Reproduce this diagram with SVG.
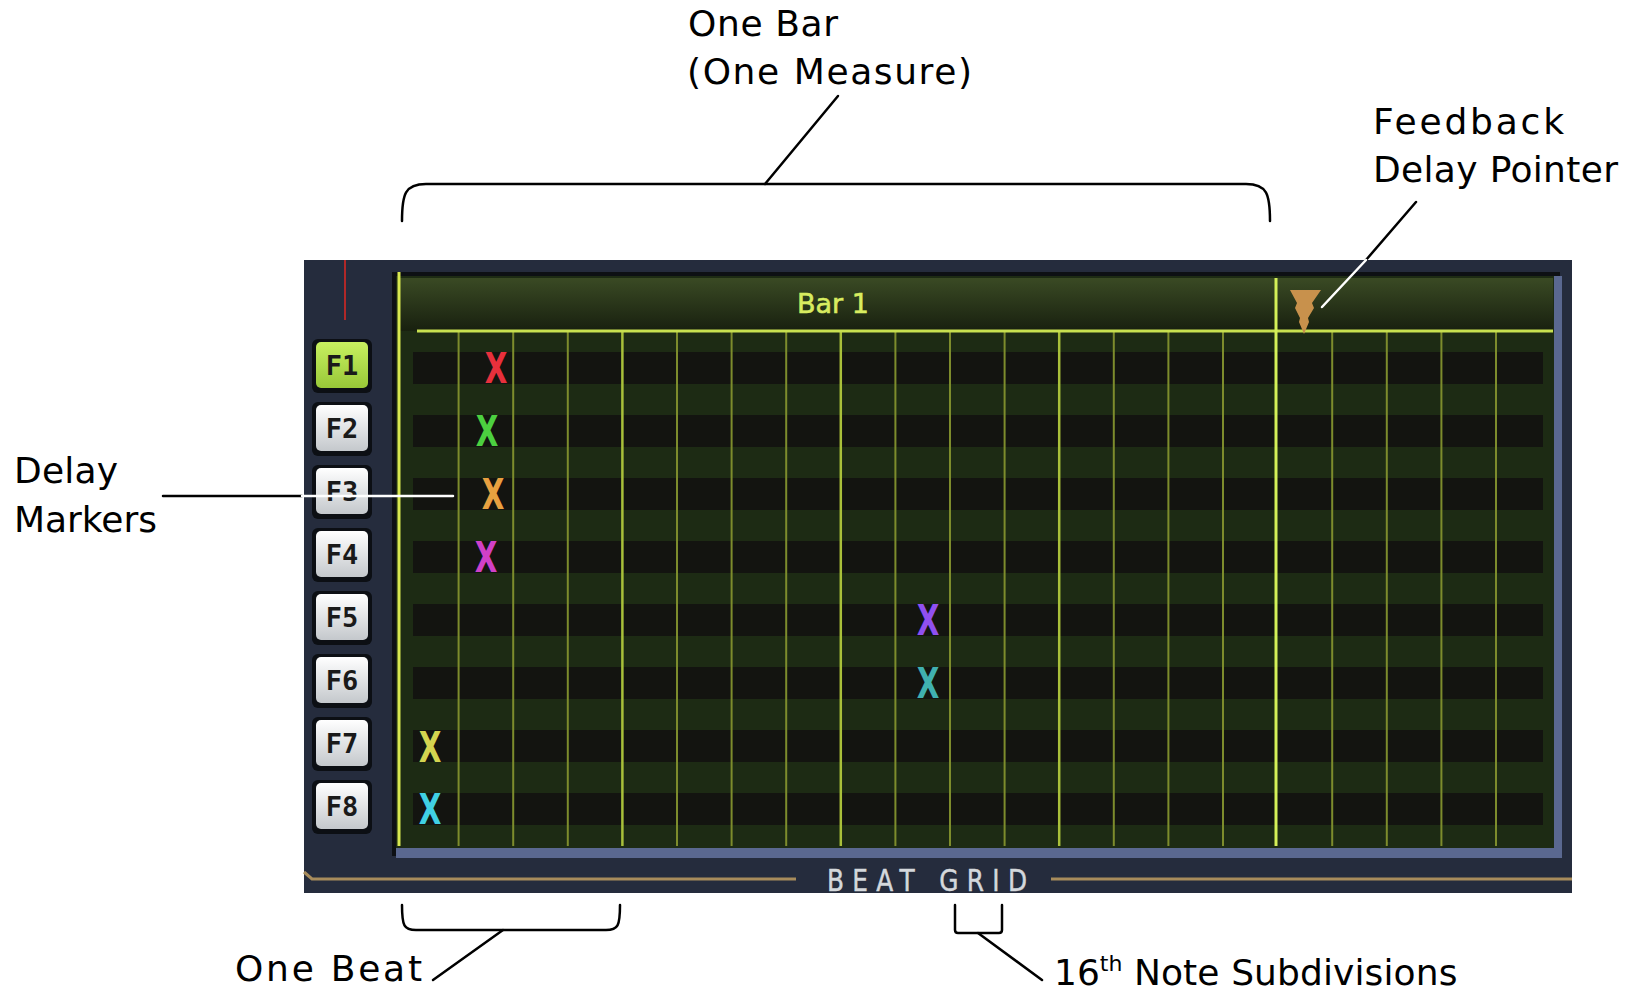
<svg xmlns="http://www.w3.org/2000/svg" width="1632" height="993" viewBox="0 0 1632 993">
<defs>
<linearGradient id="hdr" x1="0" y1="0" x2="0" y2="1">
<stop offset="0" stop-color="#3a4a24"/>
<stop offset="1" stop-color="#18200f"/>
</linearGradient>
<linearGradient id="btn" x1="0" y1="0" x2="0" y2="1">
<stop offset="0" stop-color="#ffffff"/>
<stop offset="1" stop-color="#c4c8cc"/>
</linearGradient>
<linearGradient id="btnOn" x1="0" y1="0" x2="0" y2="1">
<stop offset="0" stop-color="#c8f060"/>
<stop offset="1" stop-color="#98c838"/>
</linearGradient>
<style>
.ann{font-family:"DejaVu Sans","Liberation Sans",sans-serif;font-size:36px;fill:#000}
.btxt{font-family:"DejaVu Sans Mono","Liberation Mono",monospace;font-weight:bold;font-size:27px;fill:#1a1a1a;text-anchor:middle}
.xm{font-family:"DejaVu Sans","Liberation Sans",sans-serif;font-weight:bold;font-size:42px;text-anchor:middle}
.sub{stroke:#7d8c2c;stroke-width:2}
.beat{stroke:#a9c03a;stroke-width:2.5}
.ln{fill:none;stroke:#000;stroke-width:2.5;stroke-linecap:round}
.wl{fill:none;stroke:#fff;stroke-width:2.5;stroke-linecap:round}
.dark{fill:#131410}
</style>
</defs>

<g id="panel">
<rect x="304" y="260" width="1268" height="633" fill="#252c3d"/>
<line x1="345" y1="260" x2="345" y2="320" stroke="#b02828" stroke-width="2"/>
<rect x="392" y="272" width="1168" height="584" fill="#0d1014"/>
<rect x="396" y="276" width="1166" height="582" fill="#5a6890"/>
<rect x="396" y="276" width="1158" height="572" fill="#1d2b14"/>
<rect x="398" y="278" width="1155" height="53" fill="url(#hdr)"/>
</g>

<g id="grid">
<g class="dark">
<rect x="413" y="352" width="1130" height="32"/>
<rect x="413" y="415" width="1130" height="32"/>
<rect x="413" y="478" width="1130" height="32"/>
<rect x="413" y="541" width="1130" height="32"/>
<rect x="413" y="604" width="1130" height="32"/>
<rect x="413" y="667" width="1130" height="32"/>
<rect x="413" y="730" width="1130" height="32"/>
<rect x="413" y="793" width="1130" height="32"/>
</g>
<g>
<line class="sub" x1="458.6" y1="331" x2="458.6" y2="846"/>
<line class="sub" x1="513.2" y1="331" x2="513.2" y2="846"/>
<line class="sub" x1="567.8" y1="331" x2="567.8" y2="846"/>
<line class="beat" x1="622.4" y1="331" x2="622.4" y2="846"/>
<line class="sub" x1="677" y1="331" x2="677" y2="846"/>
<line class="sub" x1="731.6" y1="331" x2="731.6" y2="846"/>
<line class="sub" x1="786.2" y1="331" x2="786.2" y2="846"/>
<line class="beat" x1="840.8" y1="331" x2="840.8" y2="846"/>
<line class="sub" x1="895.4" y1="331" x2="895.4" y2="846"/>
<line class="sub" x1="950" y1="331" x2="950" y2="846"/>
<line class="sub" x1="1004.6" y1="331" x2="1004.6" y2="846"/>
<line class="beat" x1="1059.2" y1="331" x2="1059.2" y2="846"/>
<line class="sub" x1="1113.8" y1="331" x2="1113.8" y2="846"/>
<line class="sub" x1="1168.4" y1="331" x2="1168.4" y2="846"/>
<line class="sub" x1="1223" y1="331" x2="1223" y2="846"/>
<line class="sub" x1="1332.2" y1="331" x2="1332.2" y2="846"/>
<line class="sub" x1="1386.8" y1="331" x2="1386.8" y2="846"/>
<line class="sub" x1="1441.4" y1="331" x2="1441.4" y2="846"/>
<line class="sub" x1="1496" y1="331" x2="1496" y2="846"/>
</g>
<line x1="417" y1="331" x2="1553" y2="331" stroke="#c8e050" stroke-width="3"/>
<line x1="399" y1="272" x2="399" y2="846" stroke="#d8e850" stroke-width="3"/>
<line x1="1276" y1="278" x2="1276" y2="846" stroke="#d4f058" stroke-width="3"/>
<text x="833" y="313" font-family="DejaVu Sans, Liberation Sans, sans-serif" font-size="27" fill="#d8ec60" stroke="#d8ec60" stroke-width="0.6" text-anchor="middle">Bar 1</text>
<polygon points="1290,290 1321,290 1312,303 1314,308 1308,318 1309,322 1304,334 1299,322 1300,318 1295,308 1297,303" fill="#c8914c"/>
</g>

<g id="buttons">
<g fill="#0c0f14">
<rect x="312" y="339" width="60" height="54" rx="6"/>
<rect x="312" y="402" width="60" height="54" rx="6"/>
<rect x="312" y="465" width="60" height="54" rx="6"/>
<rect x="312" y="528" width="60" height="54" rx="6"/>
<rect x="312" y="591" width="60" height="54" rx="6"/>
<rect x="312" y="654" width="60" height="54" rx="6"/>
<rect x="312" y="717" width="60" height="54" rx="6"/>
<rect x="312" y="780" width="60" height="54" rx="6"/>
</g>
<g id="btnF1"><rect x="316" y="342" width="52" height="46" rx="5" fill="url(#btnOn)"/><text class="btxt" x="342" y="375">F1</text></g>
<g id="btnF2"><rect x="316" y="405" width="52" height="46" rx="5" fill="url(#btn)"/><text class="btxt" x="342" y="438">F2</text></g>
<g id="btnF3"><rect x="316" y="468" width="52" height="46" rx="5" fill="url(#btn)"/><text class="btxt" x="342" y="501">F3</text></g>
<g id="btnF4"><rect x="316" y="531" width="52" height="46" rx="5" fill="url(#btn)"/><text class="btxt" x="342" y="564">F4</text></g>
<g id="btnF5"><rect x="316" y="594" width="52" height="46" rx="5" fill="url(#btn)"/><text class="btxt" x="342" y="627">F5</text></g>
<g id="btnF6"><rect x="316" y="657" width="52" height="46" rx="5" fill="url(#btn)"/><text class="btxt" x="342" y="690">F6</text></g>
<g id="btnF7"><rect x="316" y="720" width="52" height="46" rx="5" fill="url(#btn)"/><text class="btxt" x="342" y="753">F7</text></g>
<g id="btnF8"><rect x="316" y="783" width="52" height="46" rx="5" fill="url(#btn)"/><text class="btxt" x="342" y="816">F8</text></g>
</g>

<g id="markers">
<text class="xm" fill="#e8303c" transform="translate(496,368) scale(0.7,1)" y="15">X</text>
<text class="xm" fill="#4cd040" transform="translate(487,431) scale(0.7,1)" y="15">X</text>
<text class="xm" fill="#e8a040" transform="translate(493,494) scale(0.7,1)" y="15">X</text>
<text class="xm" fill="#d040c8" transform="translate(486,557) scale(0.7,1)" y="15">X</text>
<text class="xm" fill="#9050f0" transform="translate(928,620) scale(0.7,1)" y="15">X</text>
<text class="xm" fill="#40b0b0" transform="translate(928,683) scale(0.7,1)" y="15">X</text>
<text class="xm" fill="#d4d450" transform="translate(430,747) scale(0.7,1)" y="15">X</text>
<text class="xm" fill="#40d0e4" transform="translate(430,809) scale(0.7,1)" y="15">X</text>
</g>

<g id="beatgrid-label">
<path d="M304,872 L312,879 L796,879" fill="none" stroke="#a88c5c" stroke-width="3"/>
<line x1="1051" y1="879" x2="1572" y2="879" stroke="#a88c5c" stroke-width="3"/>
<text transform="translate(827,891) scale(0.8,1)" font-family="DejaVu Sans, Liberation Sans, sans-serif" font-size="31" fill="#d4d8dc" stroke="#d4d8dc" stroke-width="0.5" textLength="250" lengthAdjust="spacing">BEAT GRID</text>
</g>

<g id="connectors">
<path class="ln" d="M402,221 C402,194 405,184 426,184 L1246,184 C1267,184 1270,194 1270,221"/>
<line class="ln" x1="765" y1="184" x2="838" y2="96"/>
<line class="ln" x1="1416" y1="202" x2="1366" y2="260"/>
<line class="wl" x1="1366" y1="260" x2="1322" y2="307"/>
<line class="ln" x1="163" y1="496" x2="302" y2="496"/>
<line class="wl" x1="302" y1="496" x2="453" y2="496"/>
<path class="ln" d="M402,905 C402,926 404,930 416,930 L606,930 C618,930 620,926 620,905"/>
<line class="ln" x1="503" y1="930" x2="433" y2="980"/>
<path class="ln" d="M955,905 L955,930 Q955,933 958,933 L999,933 Q1002,933 1002,930 L1002,905"/>
<line class="ln" x1="978" y1="933" x2="1042" y2="980"/>
</g>

<g id="labels">
<g id="label-onebar"><text class="ann" x="688" y="36" textLength="150">One Bar</text><text class="ann" x="687" y="84" textLength="285">(One Measure)</text></g>
<g id="label-feedback"><text class="ann" x="1373" y="134" textLength="191">Feedback</text><text class="ann" x="1373" y="182" textLength="245">Delay Pointer</text></g>
<g id="label-delaymarkers"><text class="ann" x="14" y="483" textLength="104">Delay</text><text class="ann" x="14" y="532" textLength="143">Markers</text></g>
<g id="label-onebeat"><text class="ann" x="235" y="981" textLength="187">One Beat</text></g>
<g id="label-16th"><text class="ann" x="1054" y="985">16<tspan font-size="22" dy="-14">th</tspan><tspan dy="14" textLength="335"> Note Subdivisions</tspan></text></g>
</g>
</svg>
